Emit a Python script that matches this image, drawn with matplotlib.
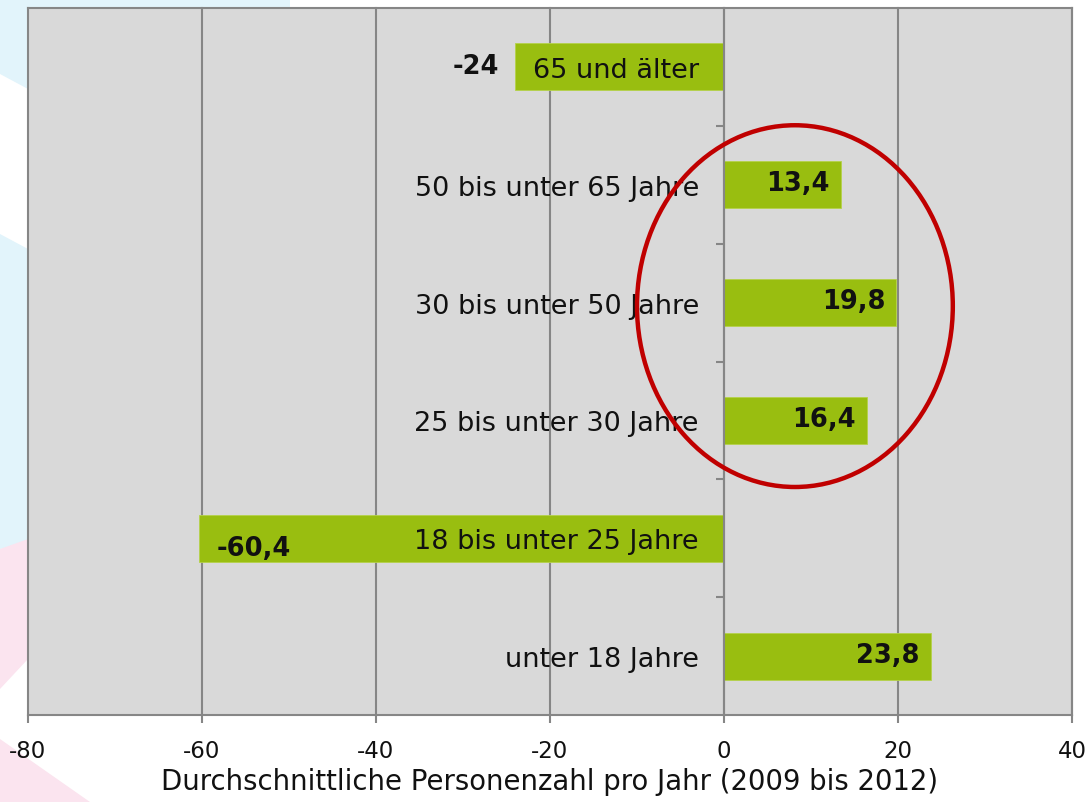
import matplotlib
matplotlib.use("Agg")
import matplotlib.pyplot as plt
from matplotlib.patches import Ellipse, Polygon

# ---- data (top to bottom as shown) ----
categories = ["65 und älter", "50 bis unter 65 Jahre", "30 bis unter 50 Jahre",
              "25 bis unter 30 Jahre", "18 bis unter 25 Jahre", "unter 18 Jahre"]
values = [-24, 13.4, 19.8, 16.4, -60.4, 23.8]
x_ticks = [-80, -60, -40, -20, 0, 20, 40]
x_label = "Durchschnittliche Personenzahl pro Jahr (2009 bis 2012)"

# plot bottom-up
cats = categories[::-1]
vals = values[::-1]
ypos = list(range(len(cats)))

W, H = 1088, 803
fig = plt.figure(figsize=(W / 100, H / 100), dpi=100)
fig.patch.set_facecolor("white")

# faint background decoration (figure coords in pixels, y down)
def px_poly(pts, color):
    p = Polygon([(x / W, 1 - y / H) for x, y in pts], closed=True,
                facecolor=color, edgecolor="none", transform=fig.transFigure, zorder=-10)
    fig.patches.append(p)

blue = "#E2F4FB"
pink = "#FBE4EF"
px_poly([(0, 0), (290, 0), (290, 10), (28, 10), (28, 90), (0, 75)], blue)
px_poly([(0, 235), (28, 250), (28, 545), (0, 550)], blue)
px_poly([(0, 550), (28, 540), (28, 660), (0, 690)], pink)
px_poly([(0, 740), (90, 803), (0, 803)], pink)

ax = fig.add_axes([28 / W, 1 - 716 / H, (1072 - 28) / W, (716 - 9) / H])
ax.set_facecolor("#D9D9D9")

grid_c = "#868686"
ax.set_xlim(x_ticks[0], x_ticks[-1])
ax.set_ylim(-0.5, len(cats) - 0.5)

for xt in x_ticks:
    ax.axvline(xt, color=grid_c, lw=1.5, zorder=0.5, clip_on=False)

bar_c = "#99BE10"
ax.barh(ypos, vals, height=0.4, color=bar_c, edgecolor="#B5D24A", linewidth=0.6, zorder=2)

# spines
for s in ["top", "right", "bottom"]:
    ax.spines[s].set_color(grid_c)
    ax.spines[s].set_linewidth(1.5)
ax.spines["left"].set_position(("data", 0))
ax.spines["left"].set_color(grid_c)
ax.spines["left"].set_linewidth(1.5)

# x axis
ax.set_xticks(x_ticks)
ax.set_xticklabels([str(t) for t in x_ticks])
ax.tick_params(axis="x", direction="out", length=6, width=1.5, color=grid_c,
               labelsize=16.5, pad=11, labelcolor="#111111")
ax.set_xlabel(x_label, fontsize=19.8, color="#111111", labelpad=4)

# y axis: category labels next to the zero axis
ax.set_yticks(ypos)
ax.set_yticklabels(cats)
ax.set_yticks([i + 0.5 for i in ypos[:-1]], minor=True)
ax.tick_params(axis="y", which="major", length=0, pad=18, labelsize=19.5, labelcolor="#111111")
ax.tick_params(axis="y", which="minor", direction="out", length=6, width=1.5, color=grid_c)
for lab in ax.get_yticklabels():
    lab.set_zorder(5)
ax.yaxis.set_zorder(5)

# value labels
def fmt(v):
    return f"{v:g}".replace(".", ",")

for y, v in zip(ypos, vals):
    if v >= 0:
        ax.annotate(fmt(v), (v, y), xytext=(-8, 1), textcoords="offset points",
                    ha="right", va="center", fontsize=18.5, fontweight="bold",
                    color="#111111", zorder=6)
    elif v > -40:
        ax.annotate(fmt(v), (v, y), xytext=(-12, 1), textcoords="offset points",
                    ha="right", va="center", fontsize=18.5, fontweight="bold",
                    color="#111111", zorder=6)
    else:
        ax.annotate(fmt(v), (v, y), xytext=(13, -7), textcoords="offset points",
                    ha="left", va="center", fontsize=18.5, fontweight="bold",
                    color="#111111", zorder=6)

# red highlight ellipse around the positive middle groups
ell = Ellipse((8.15, 2.97), 36.3, 3.07, fill=False, edgecolor="#C00000",
              linewidth=3.2, zorder=7, clip_on=False)
ax.add_patch(ell)

fig.savefig("out.png", dpi=100, facecolor=fig.get_facecolor())
